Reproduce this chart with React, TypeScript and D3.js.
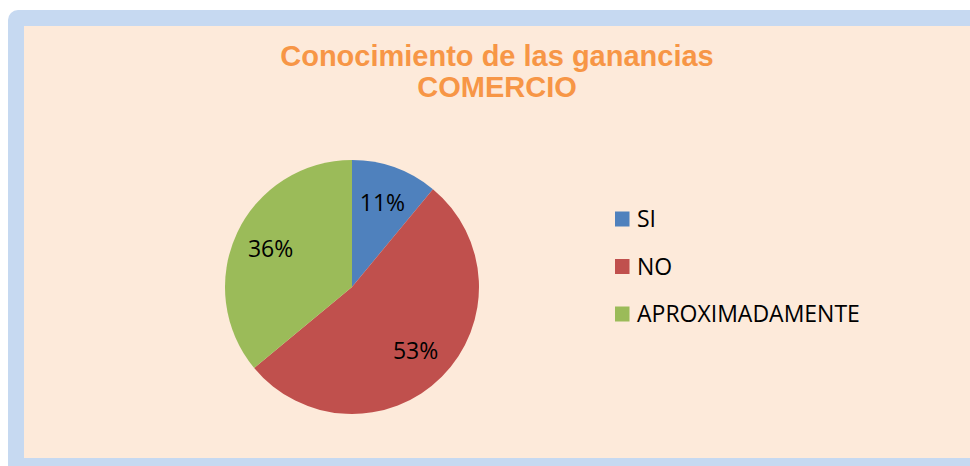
import React from "react";
import * as d3 from "d3";

const categories = ["SI", "NO", "APROXIMADAMENTE"];
const values = [11, 53, 36];
const labels = ["11%", "53%", "36%"];
const colors = ["#4F81BD", "#C0504D", "#9BBB59"];
const titleLines = ["Conocimiento de las ganancias", "COMERCIO"];

export default function App() {
  const W = 970, H = 466;
  const cx = 352, cy = 287, R = 127;
  const pie = d3.pie<number>().sort(null).value((d) => d);
  const arcs = pie(values);
  const arc = d3.arc<d3.PieArcDatum<number>>().innerRadius(0).outerRadius(R);
  const labelArc = d3.arc<d3.PieArcDatum<number>>().innerRadius(90).outerRadius(90);
  const legendY = d3.scalePoint<string>().domain(categories).range([219, 314]);

  return (
    <div style={{ position: "fixed", left: 0, top: 0 }}>
      <svg width={W} height={H} style={{ display: "block" }}>
        <rect x={0} y={0} width={W} height={H} fill="#ffffff" />
        <rect x={8} y={10} width={1100} height={600} rx={10} fill="#C6D9F1" />
        <rect x={24} y={26} width={1100} height={432} fill="#FDEADA" />
        <g fontFamily="'Liberation Sans', Arial, sans-serif" fontWeight="bold" fontSize={29} fill="#F79646" textAnchor="middle">
          {titleLines.map((t, i) => (
            <text key={i} x={497} y={66 + i * 31}>{t}</text>
          ))}
        </g>
        <g transform={`translate(${cx},${cy})`}>
          {arcs.map((a, i) => (
            <path key={i} d={arc(a) || ""} fill={colors[i]} />
          ))}
          {arcs.map((a, i) => {
            const [x, y] = labelArc.centroid(a);
            return (
              <text key={i} x={x} y={y} dy="0.36em" textAnchor="middle" fontFamily="'Open Sans', sans-serif" fontSize={23} fill="#000">
                {labels[i]}
              </text>
            );
          })}
        </g>
        <g fontFamily="'Open Sans', sans-serif" fontSize={23} fill="#000">
          {categories.map((c, i) => {
            const y = legendY(c) as number;
            return (
              <g key={c}>
                <rect x={615} y={y - 7.5} width={14.5} height={15} fill={colors[i]} />
                <text x={637} y={y + 8}>{c}</text>
              </g>
            );
          })}
        </g>
      </svg>
    </div>
  );
}
